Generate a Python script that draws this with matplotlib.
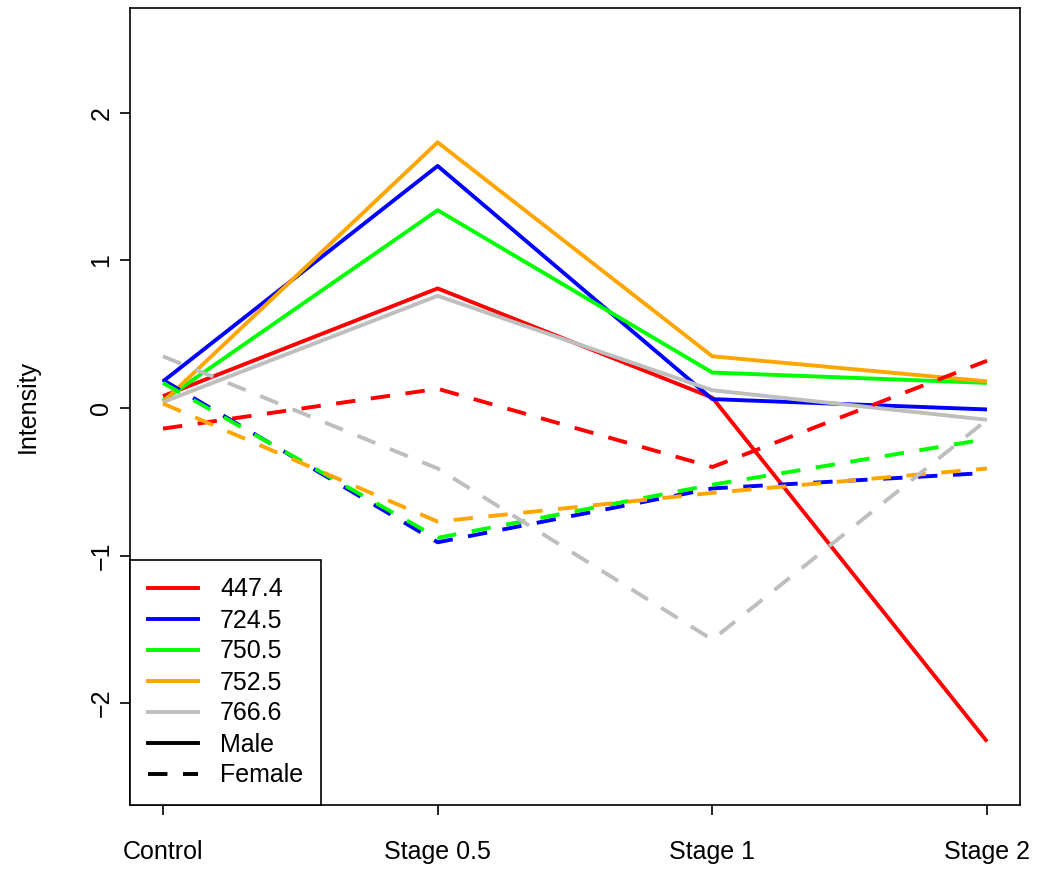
import numpy as np
import matplotlib.pyplot as plt
from matplotlib.lines import Line2D

plt.rcParams['font.family'] = ['Liberation Sans', 'DejaVu Sans']

stages = ['Control', 'Stage 0.5', 'Stage 1', 'Stage 2']
masses = ['447.4', '724.5', '750.5', '752.5', '766.6']
colors = ['#FF0000', '#0000FF', '#00FF00', '#FFA500', '#BEBEBE']

# male series (solid)
male_447 = [0.08, 0.81, 0.07, -2.26]
male_724 = [0.18, 1.64, 0.06, -0.01]
male_750 = [0.05, 1.34, 0.24, 0.17]
male_752 = [0.04, 1.80, 0.35, 0.18]
male_766 = [0.04, 0.76, 0.12, -0.08]

# female series (dashed)
female_447 = [-0.14, 0.13, -0.40, 0.32]
female_724 = [0.19, -0.91, -0.545, -0.44]
female_750 = [0.17, -0.88, -0.52, -0.21]
female_752 = [0.03, -0.77, -0.575, -0.41]
female_766 = [0.35, -0.41, -1.57, -0.08]

male = [male_447, male_724, male_750, male_752, male_766]
female = [female_447, female_724, female_750, female_752, female_766]

x = np.arange(len(stages))

fig = plt.figure(figsize=(10.37, 8.73), dpi=100)
ax = fig.add_axes([130/1037, 1-805/873, 890/1037, 797/873])

lw = 2.8
fs = 18
for vals, c in zip(male, colors):
    ax.plot(x, vals, color=c, lw=lw, solid_capstyle='butt')
for vals, c in zip(female, colors):
    ax.plot(x, vals, color=c, lw=lw, linestyle=(0, (5, 4)), dash_capstyle='butt')

ax.set_xlim(-0.12, 3.12)
ax.set_ylim(-2.69, 2.71)
ax.set_xticks(x)
ax.set_xticklabels(stages, fontsize=fs)
ax.set_yticks([-2, -1, 0, 1, 2])
ax.set_yticklabels(['\u22122', '\u22121', '0', '1', '2'], fontsize=fs,
                   rotation=90, va='center')
ax.tick_params(length=7, width=1.2, pad=5)
ax.tick_params(axis='x', pad=18)
ax.set_ylabel('Intensity', fontsize=fs, labelpad=36)
for s in ax.spines.values():
    s.set_linewidth(1.2)

handles = [Line2D([], [], color=c, lw=lw) for c in colors]
handles.append(Line2D([], [], color='black', lw=lw))
handles.append(Line2D([], [], color='black', lw=lw, linestyle=(0, (5, 4))))
leg = ax.legend(handles, masses + ['Male', 'Female'], loc='lower left',
                bbox_to_anchor=(0, 0), borderaxespad=0, fontsize=fs,
                fancybox=False, framealpha=1, edgecolor='black',
                handlelength=2.0, handletextpad=0.9, labelspacing=0.28,
                borderpad=0.7)
leg.get_frame().set_linewidth(1.2)

fig.savefig('out.png', dpi=100)
